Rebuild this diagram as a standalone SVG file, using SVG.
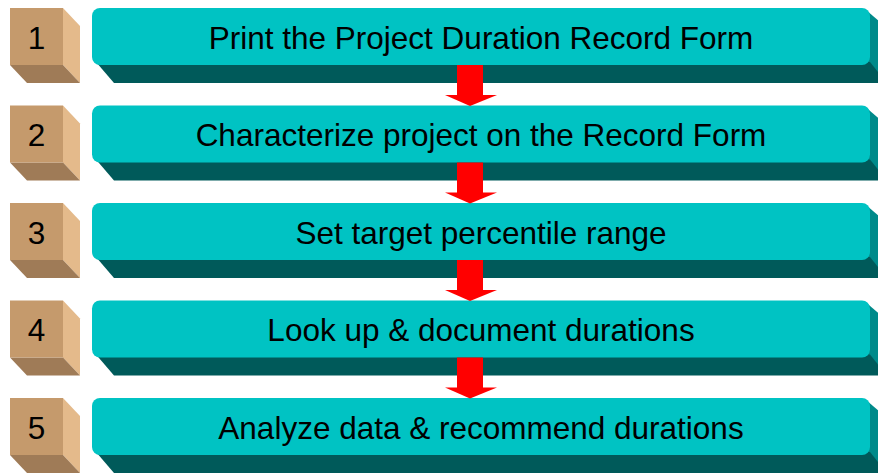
<svg xmlns="http://www.w3.org/2000/svg" width="878" height="473" viewBox="0 0 878 473">
  <defs>
    <style>
      .cube-front { fill: #C59A6C; }
      .cube-side { fill: #E4BA8B; }
      .cube-bottom { fill: #9F7B57; }
      .bar-front { fill: #00C3C3; }
      .bar-bottom { fill: #005A5A; }
      .bar-side { fill: #008A8A; }
      .num { font-family: "Liberation Sans", Arial, sans-serif; font-size: 31.5px; fill: #000; text-anchor: middle; }
      .label { font-family: "Liberation Sans", Arial, sans-serif; font-size: 31.5px; fill: #000; text-anchor: middle; }
      .arrow { fill: #FF0000; }
    </style>
    <!-- numbered cube: front face plus extruded side and bottom -->
    <g id="cube">
      <polygon class="cube-side" points="63,8 80,26 80,83 63,65"/>
      <polygon class="cube-bottom" points="10,65 63,65 80,83 27,83"/>
      <rect class="cube-front" x="10" y="8" width="53" height="57"/>
    </g>
    <!-- step bar: rounded front face with extruded bottom and right side -->
    <g id="bar">
      <polygon class="bar-side" points="866,10 887,28 887,83 866,65"/>
      <polygon class="bar-bottom" points="96,62 870,62 887,83 114,83"/>
      <rect class="bar-front" x="92" y="8" width="778" height="57" rx="8" ry="8"/>
    </g>
    <!-- downward arrow between steps -->
    <g id="down">
      <rect class="arrow" x="457" y="65" width="26" height="30.5"/>
      <polygon class="arrow" points="445,95 497,95 470,106"/>
    </g>
  </defs>

  <rect width="878" height="473" fill="#FFFFFF"/>

  <g id="step1">
    <use href="#cube"/>
    <use href="#bar"/>
    <text class="num" x="36.5" y="48.5">1</text>
    <text class="label" x="481" y="48.5">Print the Project Duration Record Form</text>
  </g>
  <g id="step2" transform="translate(0,97.5)">
    <use href="#cube"/>
    <use href="#bar"/>
    <text class="num" x="36.5" y="48.5">2</text>
    <text class="label" x="481" y="48.5">Characterize project on the Record Form</text>
  </g>
  <g id="step3" transform="translate(0,195)">
    <use href="#cube"/>
    <use href="#bar"/>
    <text class="num" x="36.5" y="48.5">3</text>
    <text class="label" x="481" y="48.5">Set target percentile range</text>
  </g>
  <g id="step4" transform="translate(0,292.5)">
    <use href="#cube"/>
    <use href="#bar"/>
    <text class="num" x="36.5" y="48.5">4</text>
    <text class="label" x="481" y="48.5">Look up &amp; document durations</text>
  </g>
  <g id="step5" transform="translate(0,390)">
    <use href="#cube"/>
    <use href="#bar"/>
    <text class="num" x="36.5" y="48.5">5</text>
    <text class="label" x="481" y="48.5">Analyze data &amp; recommend durations</text>
  </g>

  <g id="connectors">
    <use href="#down" transform="translate(0,0)"/>
    <use href="#down" transform="translate(0,97.5)"/>
    <use href="#down" transform="translate(0,195)"/>
    <use href="#down" transform="translate(0,292.5)"/>
  </g>
</svg>
